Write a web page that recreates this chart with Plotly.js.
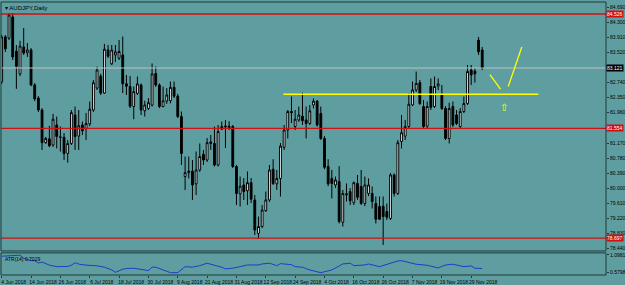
<!DOCTYPE html>
<html><head><meta charset="utf-8">
<script src="https://cdn.plot.ly/plotly-3.0.1.min.js"></script>
<style>html,body{margin:0;padding:0;background:#5f9ea0;}#chart{width:625px;height:285px;}</style>
</head><body><div id="chart"></div>
<script>
// AUDJPY daily candles, first bar = 4 Jun 2018 (weekdays only)
const firstDay = '2018-06-04';
const openP  = [82.76,83.93,83.90,84.45,83.56,82.97,83.67,83.52,83.59,82.68,82.34,82.03,81.18,81.28,81.12,81.64,81.33,81.32,80.90,81.16,
81.90,81.35,81.64,81.55,81.67,82.03,82.60,82.91,82.47,83.59,83.23,83.46,83.38,83.46,82.71,82.64,82.12,82.46,82.68,82.01,
82.07,82.16,82.98,82.68,82.12,82.26,82.27,82.62,82.39,81.86,80.30,80.40,80.44,80.11,80.47,80.88,80.73,81.20,81.16,80.60,
81.53,81.59,81.61,81.60,80.56,79.85,80.08,79.93,80.14,79.69,78.82,79.00,79.41,79.69,80.49,80.11,80.25,81.06,81.51,81.99,
81.60,81.77,81.87,81.77,81.68,82.16,82.26,81.94,81.29,80.56,80.25,80.08,80.17,79.11,79.82,79.91,79.62,80.12,80.04,79.60,
79.86,79.86,79.60,79.52,79.53,79.39,79.21,80.34,79.86,81.21,81.35,81.60,82.16,82.55,82.74,82.12,81.61,82.64,82.12,82.65,
82.42,82.07,81.29,82.12,81.90,81.60,81.99,82.20,83.07,83.04,83.85,83.59];
const highP  = [83.98,83.98,84.55,84.55,83.72,83.83,84.16,83.77,83.64,82.73,82.39,82.08,81.33,81.62,81.93,81.86,81.60,81.43,81.25,82.03,
82.12,82.03,81.73,81.95,82.25,82.81,83.16,82.97,83.75,83.72,83.72,83.72,83.85,83.94,82.94,82.91,82.64,82.90,82.72,82.27,
82.34,83.24,83.16,82.72,82.64,82.60,82.77,82.77,82.45,81.99,80.82,80.82,80.73,80.95,81.16,80.99,81.30,81.38,81.60,81.64,
81.73,81.77,81.74,81.64,80.60,80.30,80.26,80.43,80.26,79.82,79.26,79.56,79.91,80.60,80.75,80.47,81.17,81.64,82.03,82.38,
82.03,82.12,82.48,82.12,82.16,82.33,82.29,82.12,81.35,80.75,80.47,80.30,80.57,79.95,80.12,80.00,80.17,80.34,80.47,80.30,
80.25,80.04,79.78,79.78,79.78,79.60,80.39,80.38,81.25,81.90,81.77,82.46,82.77,83.03,82.81,82.29,82.25,82.85,82.90,82.85,
82.68,82.13,82.22,82.25,82.03,82.08,82.38,83.20,83.20,83.11,83.93,83.67];
const lowP   = [82.71,83.54,83.85,83.33,82.58,82.91,83.46,83.41,82.65,82.26,81.98,80.99,81.15,81.06,81.07,81.03,80.95,80.73,80.66,81.12,
80.99,80.99,81.38,81.25,81.61,81.98,82.55,82.42,82.45,83.38,83.20,83.28,83.33,82.47,82.42,82.08,81.79,82.42,81.90,81.86,
82.03,82.12,82.63,82.08,82.10,82.19,82.20,82.34,81.82,80.60,79.95,80.25,79.69,79.82,80.42,80.60,80.68,80.99,80.56,80.56,
81.51,81.04,81.51,80.52,79.56,79.52,79.69,79.56,79.61,78.78,78.69,78.96,79.38,79.64,80.08,79.95,79.78,80.99,81.29,81.69,
81.51,81.72,81.64,81.29,81.64,82.07,81.60,81.25,80.49,80.05,79.73,80.00,79.08,79.00,79.65,79.56,79.56,79.69,79.56,79.53,
79.79,79.47,79.08,79.17,78.52,79.17,79.17,79.78,79.82,81.03,81.25,81.56,82.13,82.50,82.16,81.55,81.56,82.03,82.08,82.55,
82.03,81.25,81.16,81.59,81.64,81.56,81.95,82.16,82.68,82.74,83.46,83.07];
const closeP = [83.93,83.62,84.50,83.41,83.17,83.69,83.51,83.59,82.68,82.32,82.03,81.18,81.29,81.10,81.79,81.34,81.32,80.90,81.16,81.96,
81.34,81.62,81.49,81.68,82.05,82.74,83.07,82.47,83.61,83.43,83.59,83.54,83.55,82.71,82.65,82.13,82.51,82.71,82.03,82.16,
82.22,82.97,82.68,82.12,82.27,82.42,82.62,82.39,81.86,80.90,80.40,80.44,80.08,80.47,80.82,80.73,81.18,81.16,80.60,81.47,
81.60,81.61,81.57,80.56,79.86,80.05,79.91,80.14,79.71,78.91,79.00,79.43,79.69,80.47,80.12,80.25,81.09,81.51,81.99,81.96,
81.79,81.90,81.75,81.68,82.01,82.26,81.64,81.29,80.54,80.11,80.12,80.21,79.13,79.86,79.85,79.67,80.14,79.76,79.60,80.08,
80.08,79.65,79.19,79.19,79.26,79.24,80.34,79.86,81.18,81.44,81.60,82.18,82.55,82.72,82.20,81.60,82.12,82.10,82.64,82.71,
82.07,81.29,82.07,81.64,81.68,81.99,82.20,83.03,82.94,82.97,83.54,83.12];

// ATR indicator (bar index, value) read from the lower window
const atrIdx = [0,2,4,5,6,8,9,10,11,13,15,18,19,20,21,23,26,28,30,31,33,34,36,38,40,41,42,44,46,48,49,50,52,54,56,58,60,61,63,65,67,70,71,73,75,76,79,80,82,84,86,87,90,93,95,96,99,100,103,106,108,109,111,113,116,119,121,123,126,128,129,131];
const atrVal = [1.06,1.08,1.098,1.09,1.00,0.93,0.93,0.86,0.89,0.80,0.755,0.76,0.80,0.87,0.83,0.80,0.78,0.74,0.66,0.59,0.68,0.70,0.71,0.68,0.64,0.74,0.74,0.66,0.58,0.58,0.66,0.755,0.74,0.785,0.855,0.805,0.738,0.69,0.71,0.755,0.805,0.805,0.834,0.855,0.785,0.843,0.814,0.755,0.738,0.659,0.609,0.58,0.659,0.834,0.855,0.785,0.805,0.834,0.755,0.864,0.922,0.931,0.873,0.826,0.796,0.717,0.805,0.826,0.755,0.776,0.709,0.703];

const dateTickIdx = [0,8,16,24,32,40,48,56,64,72,80,88,96,104,112,120,128];
const dateTickText = ['4 Jun 2018','14 Jun 2018','26 Jun 2018','6 Jul 2018','18 Jul 2018','30 Jul 2018','9 Aug 2018','21 Aug 2018','31 Aug 2018','12 Sep 2018','24 Sep 2018','4 Oct 2018','16 Oct 2018','26 Oct 2018','7 Nov 2018','19 Nov 2018','29 Nov 2018'];
const priceTicks = [84.690,84.300,83.910,83.520,82.740,82.350,81.960,81.170,80.780,80.390,80.000,79.610,79.220,78.830,78.440];
const priceTickText = ['84.690','84.300','83.910','83.520','82.740','82.350','81.960','81.170','80.780','80.390','80.000','79.610','79.220','78.830','78.440'];
const atrTicks = [1.0981, 0.5798];
const atrTickText = ['1.0981','0.5798'];

// horizontal levels
const redLevels = [84.526, 81.554, 78.697];
const redLabels = ['84.526','81.554','78.697'];
const bidPrice = 83.121;
const bidLabel = '83.121';
// yellow drawing: resistance line and zigzag (bar index, price)
const yellowLineIdx = [76.8, 146.3];
const yellowLinePrice = 82.44;
const zig1Idx = [133.1, 136.0], zig1Price = [82.95, 82.57];
const zig2Idx = [138.1, 141.8], zig2Price = [82.64, 83.67];
const arrowIdx = 136.9, arrowPrice = 82.10;

// weekday calendar for bar dates
const dates = [];
{ let d = new Date(firstDay + 'T00:00:00Z');
  while (dates.length < openP.length) {
    const w = d.getUTCDay();
    if (w !== 0 && w !== 6) dates.push(d.toISOString().slice(0,10));
    d = new Date(d.getTime() + 86400000);
  } }

const frame = '#1e3a3a';
const tf = {family:'Liberation Sans, Arial, sans-serif', size:5, color:'#000'};

const traces = [
  {type:'candlestick', x:dates, open:openP, high:highP, low:lowP, close:closeP,
   xaxis:'x', yaxis:'y', hoverinfo:'none', whiskerwidth:0,
   increasing:{line:{color:'#000', width:1}, fillcolor:'#ffffff'},
   decreasing:{line:{color:'#000', width:1}, fillcolor:'#000000'}},
  {type:'scatter', mode:'lines', x:atrIdx.map(i=>dates[i]), y:atrVal, xaxis:'x', yaxis:'y2',
   line:{color:'#1c3cc8', width:1}, hoverinfo:'none'}
];

const shapes = [];
redLevels.forEach(p => shapes.push({type:'line', xref:'paper', x0:0, x1:1, yref:'y', y0:p, y1:p, line:{color:'#d01010', width:1.3}}));
shapes.push({type:'line', xref:'paper', x0:0, x1:1, yref:'y', y0:bidPrice, y1:bidPrice, line:{color:'#c0c0c0', width:1}});
shapes.push({type:'line', xref:'x', x0:yellowLineIdx[0], x1:yellowLineIdx[1], yref:'y', y0:yellowLinePrice, y1:yellowLinePrice, line:{color:'#ffff00', width:1.5}});
shapes.push({type:'line', xref:'x', x0:zig1Idx[0], x1:zig1Idx[1], yref:'y', y0:zig1Price[0], y1:zig1Price[1], line:{color:'#ffff00', width:1.3}});
shapes.push({type:'line', xref:'x', x0:zig2Idx[0], x1:zig2Idx[1], yref:'y', y0:zig2Price[0], y1:zig2Price[1], line:{color:'#ffff00', width:1.3}});
shapes.push({type:'rect', xref:'paper', yref:'paper', x0:0, x1:1, y0:0.088, y1:1, line:{color:frame, width:1}, fillcolor:'rgba(0,0,0,0)'});
shapes.push({type:'rect', xref:'paper', yref:'paper', x0:0, x1:1, y0:0, y1:0.081, line:{color:frame, width:1}, fillcolor:'rgba(0,0,0,0)'});

const annotations = [];
redLevels.forEach((p,k) => annotations.push({xref:'paper', x:1, xanchor:'left', xshift:0, yref:'y', y:p, yanchor:'middle',
  text:redLabels[k], showarrow:false, bgcolor:'#d01010', borderpad:0, font:{family:tf.family, size:5, color:'#ffffff'}}));
annotations.push({xref:'paper', x:1, xanchor:'left', xshift:0, yref:'y', y:bidPrice, yanchor:'middle',
  text:bidLabel, showarrow:false, bgcolor:'#000000', borderpad:0, font:{family:tf.family, size:5, color:'#ffffff'}});
annotations.push({xref:'paper', x:0, xanchor:'left', xshift:2, yref:'paper', y:1, yanchor:'top', yshift:-1,
  text:'▾ AUDJPY,Daily', showarrow:false, font:{family:tf.family, size:6, color:'#000'}});
annotations.push({xref:'paper', x:0, xanchor:'left', xshift:2, yref:'paper', y:0.081, yanchor:'top', yshift:-1,
  text:'ATR(14) 0.7029', showarrow:false, font:{family:tf.family, size:5, color:'#000'}});
annotations.push({xref:'x', x:arrowIdx, yref:'y', y:arrowPrice, text:'⇧', showarrow:false,
  font:{family:'DejaVu Sans', size:10, color:'#ffff00'}});

const layout = {
  width:625, height:285, paper_bgcolor:'#5f9ea0', plot_bgcolor:'#5f9ea0',
  margin:{l:1, r:19, t:2, b:10, pad:0}, showlegend:false, dragmode:false,
  xaxis:{type:'category', range:[-0.19, 164.75], anchor:'y2', rangeslider:{visible:false},
    tickvals:dateTickIdx.map(i=>dates[i]), ticktext:dateTickText, ticks:'outside', ticklen:2, tickcolor:frame,
    tickfont:tf, tickangle:0, ticklabelshift:12, showgrid:false, zeroline:false, showline:false, fixedrange:true, automargin:false},
  yaxis:{domain:[0.088,1], range:[78.364, 84.838], side:'right', tickvals:priceTicks, ticktext:priceTickText,
    ticks:'outside', ticklen:2, tickcolor:frame, tickfont:tf, showgrid:false, zeroline:false, showline:false, fixedrange:true, automargin:false},
  yaxis2:{domain:[0,0.081], range:[0.512, 1.157], side:'right', tickvals:atrTicks, ticktext:atrTickText,
    ticks:'outside', ticklen:2, tickcolor:frame, tickfont:tf, showgrid:false, zeroline:false, showline:false, fixedrange:true, automargin:false},
  shapes:shapes, annotations:annotations
};
Plotly.newPlot('chart', traces, layout, {staticPlot:true, displayModeBar:false});
</script></body></html>
